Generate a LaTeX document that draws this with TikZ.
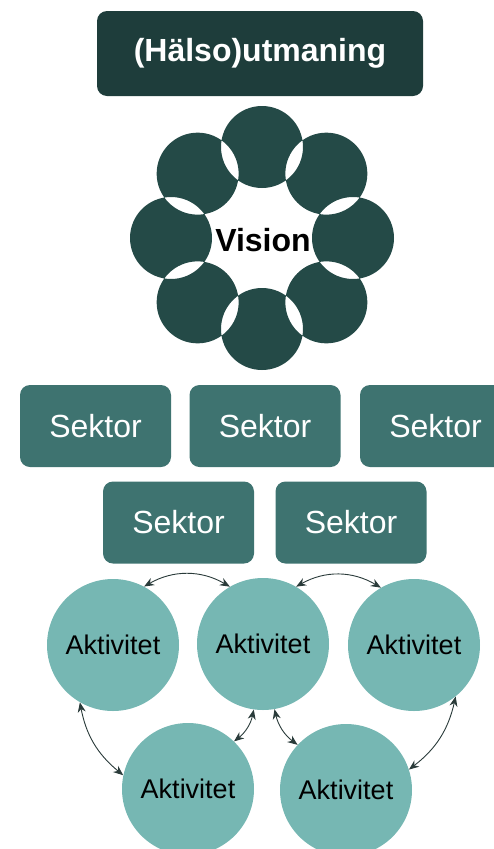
\documentclass[tikz,border=0pt]{standalone}
\usepackage{fontspec}
\setmainfont{Liberation Sans}
\usetikzlibrary{arrows.meta}
\definecolor{topc}{HTML}{1E3D3B}
\definecolor{flower}{HTML}{244A47}
\definecolor{sektc}{HTML}{3E7370}
\definecolor{aktc}{HTML}{76B7B3}
\definecolor{arrc}{HTML}{2A3B3A}
\tikzset{
  topbox/.style={rectangle, rounded corners=10pt, fill=topc, minimum width=326pt, minimum height=85pt, inner sep=0pt, text=white, font=\fontsize{32}{36}\selectfont\bfseries},
  sektbox/.style={rectangle, rounded corners=10pt, fill=sektc, minimum width=151pt, minimum height=82pt, inner sep=0pt, text=white, font=\fontsize{32}{36}\selectfont},
  akt/.style={circle, fill=aktc, minimum size=132pt, inner sep=0pt, text=black, font=\fontsize{27}{30}\selectfont},
  link/.style={draw=arrc, line width=0.9pt, {Stealth[length=10pt,width=8pt]}-{Stealth[length=10pt,width=8pt]}},
}
\begin{document}
\begin{tikzpicture}[x=1pt,y=1pt]
\useasboundingbox (0,0) rectangle (493,-849);
\node[topbox] (top) at (260,-53.5) {(Hälso)utmaning};
% Vision flower
\fill[flower, even odd rule]
  \foreach \a in {90,135,...,405} { (262,-238) ++(\a:91) circle[radius=41] };
\node[font=\fontsize{32}{36}\selectfont\bfseries, text=black] (vision) at (263,-240) {Vision};
% Sektor boxes
\node[sektbox] (s1) at (95.5,-426) {Sektor};
\node[sektbox] (s2) at (265,-426) {Sektor};
\node[sektbox] (s3) at (435.5,-426) {Sektor};
\node[sektbox] (s4) at (178.5,-522.5) {Sektor};
\node[sektbox] (s5) at (351,-522.5) {Sektor};
% Aktivitet circles
\node[akt] (c1) at (113,-645) {Aktivitet};
\node[akt] (c2) at (263,-644) {Aktivitet};
\node[akt] (c3) at (414,-645) {Aktivitet};
\node[akt] (c4) at (188,-789) {Aktivitet};
\node[akt] (c5) at (346,-790) {Aktivitet};
% connectors
\draw[link] (c1.62) to[bend left=30] (c2.120);
\draw[link] (c2.60) to[bend left=30] (c3.120);
\draw[link] (c1.240) to[bend right=20] (c4.168);
\draw[link] (c2.262) to[bend left=20] (c4.46);
\draw[link] (c2.280) to[bend right=20] (c5.137);
\draw[link] (c3.309) to[bend left=20] (c5.18);
\end{tikzpicture}
\end{document}
